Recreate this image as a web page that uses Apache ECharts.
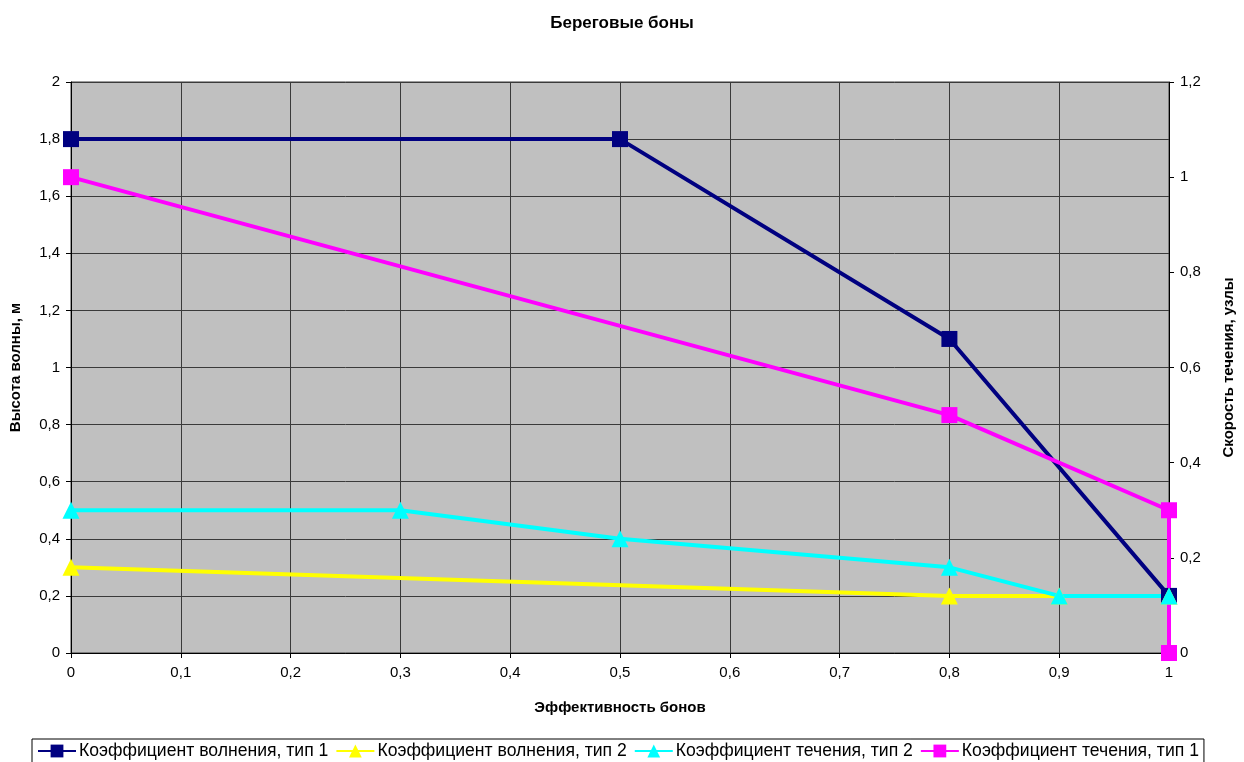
<!DOCTYPE html>
<html><head><meta charset="utf-8">
<script src="https://cdn.jsdelivr.net/npm/echarts@6/dist/echarts.min.js"></script>
<style>html,body{margin:0;padding:0;background:#fff}#c{width:1244px;height:762px}</style>
</head><body><div id="c"></div>
<script>
var title = 'Береговые боны';
var xName = 'Эффективность бонов';
var yLeftName = 'Высота волны, м';
var yRightName = 'Скорость течения, узлы';
var names = ['Коэффициент волнения, тип 1','Коэффициент волнения, тип 2','Коэффициент течения, тип 2','Коэффициент течения, тип 1'];
var waveType1 = [[0,1.8],[0.5,1.8],[0.8,1.1],[1,0.2]];
var waveType2 = [[0,0.3],[0.8,0.2],[0.9,0.2],[1,0.2]];
var flowType2 = [[0,0.5],[0.3,0.5],[0.5,0.4],[0.8,0.3],[0.9,0.2],[1,0.2]];
var flowType1 = [[0,1.0],[0.8,0.5],[1,0.3],[1,0]];

var fmt = function(v){ return String(Math.round(v*10)/10).replace('.', ','); };
var font = 'Liberation Sans, Arial, sans-serif';
var chart = echarts.init(document.getElementById('c'), null, {renderer:'canvas'});
function ser(name, data, color, symbol, size, yIdx){
  return {name:name, type:'line', data:data, yAxisIndex:yIdx, color:color,
    symbol:symbol, symbolSize:size, showAllSymbol:true,
    lineStyle:{width:4,color:color}, itemStyle:{color:color},
    emphasis:{disabled:true}, animation:false};
}
var gridColor = '#3a3a3a';
chart.setOption({
  animation:false,
  backgroundColor:'#fff',
  title:{text:title, left:'center', top:10, textStyle:{fontFamily:font, fontSize:17, fontWeight:'bold', color:'#000'}},
  grid:{left:71, right:71, top:82, bottom:109, show:true, backgroundColor:'#C0C0C0', borderColor:gridColor, borderWidth:1},
  legend:{top:739, left:32, itemWidth:38, itemHeight:16, itemGap:7,
    borderColor:'#000', borderWidth:1, padding:[3,5,3,5],
    textStyle:{fontFamily:font, fontSize:17.6, color:'#000', padding:[0,0,0,-2]}, data:names},
  xAxis:{type:'value', min:0, max:1, interval:0.1,
    name:xName, nameLocation:'middle', nameGap:47,
    nameTextStyle:{fontFamily:font, fontSize:15, fontWeight:'bold', color:'#000'},
    axisLine:{lineStyle:{color:'#000', width:1}}, axisTick:{show:true, length:5, lineStyle:{color:'#000'}},
    axisLabel:{formatter:fmt, fontFamily:font, fontSize:15, color:'#000', margin:12},
    splitLine:{show:true, lineStyle:{color:gridColor, width:1}}},
  yAxis:[{type:'value', min:0, max:2, interval:0.2, position:'left',
    name:yLeftName, nameLocation:'middle', nameGap:48, nameRotate:90,
    nameTextStyle:{fontFamily:font, fontSize:15, fontWeight:'bold', color:'#000'},
    axisLine:{show:true, lineStyle:{color:'#000', width:1}}, axisTick:{show:true, length:5, lineStyle:{color:'#000'}},
    axisLabel:{formatter:fmt, fontFamily:font, fontSize:15, color:'#000', margin:11},
    splitLine:{show:true, lineStyle:{color:gridColor, width:1}}},
   {type:'value', min:0, max:1.2, interval:0.2, position:'right',
    name:yRightName, nameLocation:'middle', nameGap:52, nameRotate:90,
    nameTextStyle:{fontFamily:font, fontSize:15, fontWeight:'bold', color:'#000'},
    axisLine:{show:true, lineStyle:{color:'#000', width:1}}, axisTick:{show:true, length:5, lineStyle:{color:'#000'}},
    axisLabel:{formatter:fmt, fontFamily:font, fontSize:15, color:'#000', margin:11},
    splitLine:{show:false}}],
  series:[
    ser(names[0], waveType1, '#000080', 'rect', 16, 0),
    ser(names[1], waveType2, '#FFFF00', 'triangle', 17, 0),
    ser(names[2], flowType2, '#00FFFF', 'triangle', 17, 0),
    ser(names[3], flowType1, '#FF00FF', 'rect', 16, 1)
  ]
});
</script></body></html>
